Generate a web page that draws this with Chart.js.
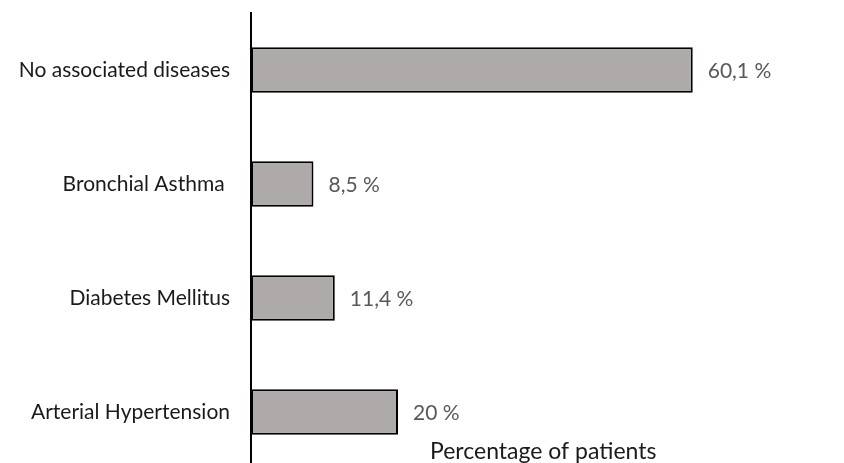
<!DOCTYPE html>
<html>
<head>
<meta charset="utf-8">
<script src="https://cdn.jsdelivr.net/npm/chart.js@4"></script>
<style>
  html, body { margin: 0; padding: 0; background: #fff; overflow: hidden; }
  #wrap { width: 844px; height: 463px; overflow: hidden; position: relative; }
  canvas { display: block; }
</style>
</head>
<body>
<div id="wrap"><canvas id="c" width="844" height="475"></canvas></div>
<script>
// Associated diseases among patients (share, %)
const categories = ['No associated diseases', 'Bronchial Asthma ', 'Diabetes Mellitus', 'Arterial Hypertension'];
const percentages = [60.1, 8.5, 11.4, 20];
const axisTitle = 'Percentage of patients';

const FONT = 'Lato, "Open Sans", sans-serif';

// Value labels written after each bar, e.g. "60,1 %"
const valueLabels = {
  id: 'valueLabels',
  afterDatasetsDraw(chart) {
    const ctx = chart.ctx;
    const meta = chart.getDatasetMeta(0);
    ctx.save();
    ctx.font = '21px ' + FONT;
    ctx.fillStyle = '#595959';
    ctx.textAlign = 'left';
    ctx.textBaseline = 'middle';
    meta.data.forEach((bar, i) => {
      const txt = String(percentages[i]).replace('.', ',') + ' %';
      ctx.fillText(txt, bar.x + 15, bar.y + 1);
    });
    ctx.restore();
  }
};

// Horizontal axis title, set inside the plot near its lower edge
const axisCaption = {
  id: 'axisCaption',
  afterDraw(chart) {
    const { ctx, chartArea } = chart;
    ctx.save();
    ctx.font = '23px ' + FONT;
    ctx.fillStyle = '#1a1a1a';
    ctx.textAlign = 'left';
    ctx.textBaseline = 'alphabetic';
    ctx.fillText(axisTitle, chartArea.left + 179, chartArea.bottom - 10);
    ctx.restore();
  }
};

new Chart(document.getElementById('c'), {
  type: 'bar',
  data: {
    labels: categories,
    datasets: [{
      data: percentages,
      backgroundColor: '#AEAAAA',
      borderColor: '#000000',
      borderWidth: 2,
      borderSkipped: false,
      categoryPercentage: 0.8,
      barPercentage: 0.5
    }]
  },
  options: {
    indexAxis: 'y',
    responsive: false,
    animation: false,
    layout: { autoPadding: false, padding: { top: 13, right: 5, bottom: 6, left: 0 } },
    plugins: {
      legend: { display: false },
      tooltip: { enabled: false }
    },
    scales: {
      x: {
        display: false,
        min: 0,
        max: 80
      },
      y: {
        grid: { display: false, drawTicks: false },
        border: { display: true, color: '#000000', width: 2 },
        ticks: {
          color: '#1a1a1a',
          font: { family: FONT, size: 21 },
          padding: 21
        },
        afterFit(scale) {
          // fixed label column; category labels sit inside their bands,
          // so no extra room is needed above or below the plot
          scale.width = 251;
          scale.paddingTop = 0;
          scale.paddingBottom = 0;
        }
      }
    }
  },
  plugins: [valueLabels, axisCaption]
});
</script>
</body>
</html>
